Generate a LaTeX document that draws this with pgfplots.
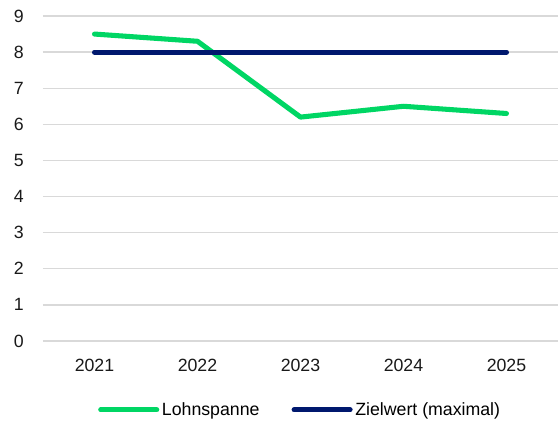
\documentclass[border=0pt]{standalone}
\usepackage{fontspec}
\setmainfont{Liberation Sans}
\usepackage{pgfplots}
\pgfplotsset{compat=1.18}

\definecolor{lohngreen}{RGB}{0,214,100}
\definecolor{zielnavy}{RGB}{0,24,110}
\definecolor{gridgray}{RGB}{217,217,217}

\begin{document}
\begin{tikzpicture}
  \useasboundingbox (-32.25pt,-62.25pt) rectangle (386.25pt,255.75pt);
  \begin{axis}[
    scale only axis,
    width=386.25pt,
    height=243.75pt,
    xmin=-0.5, xmax=4.5,
    ymin=0, ymax=9,
    xtick={0,1,2,3,4},
    xticklabels={2021,2022,2023,2024,2025},
    ytick={0,1,...,9},
    ymajorgrids,
    grid style={line width=1pt, draw=gridgray},
    axis line style={draw=none},
    major tick length=0pt,
    tick label style={font=\fontsize{13.3}{16}\selectfont, text=black!90},
    /pgf/number format/assume math mode=true,
    yticklabel style={xshift=-11pt},
    xticklabel style={yshift=-10pt},
    legend style={
      draw=none, fill=none,
      at={(0.5,-0.212)}, anchor=center,
      legend columns=-1,
      font=\fontsize{13.3}{16}\selectfont,
      /tikz/every even column/.append style={column sep=22pt},
    },
    legend image code/.code={
      \draw[#1, line cap=round] (0pt,0pt) -- (42pt,0pt);
    },
    every axis plot/.append style={line width=3.8pt, line cap=round, line join=round},
  ]
    % Lohnspanne
    \addplot[color=lohngreen, mark=none] coordinates {
      (0,8.5) (1,8.3) (2,6.2) (3,6.5) (4,6.3)
    };
    \addlegendentry{Lohnspanne}

    % Zielwert (maximal)
    \addplot[color=zielnavy, mark=none] coordinates {
      (0,8) (1,8) (2,8) (3,8) (4,8)
    };
    \addlegendentry{Zielwert (maximal)}
  \end{axis}
\end{tikzpicture}
\end{document}
